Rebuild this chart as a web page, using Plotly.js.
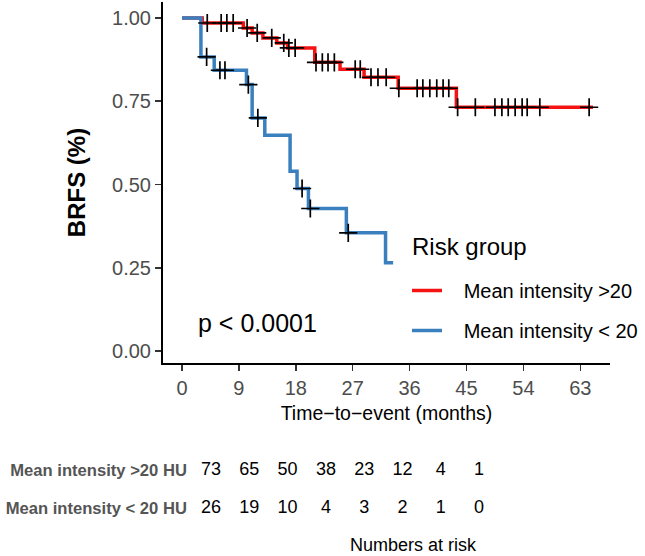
<!DOCTYPE html>
<html>
<head>
<meta charset="utf-8">
<script src="https://cdn.plot.ly/plotly-3.0.1.min.js"></script>
<style>
  html, body { margin: 0; padding: 0; background: #fff; }
  #chart { width: 645px; height: 556px; }
</style>
</head>
<body>
<div id="chart"></div>
<script>
// Kaplan-Meier steps (months, survival)
const highTime = [0, 3.2, 9.7, 11.1, 12.8, 15.0, 16.7, 21.0, 25.0, 28.8, 34.2, 43.4, 65.0];
const highSurv = [1, 0.985, 0.970, 0.955, 0.940, 0.925, 0.910, 0.867, 0.846, 0.822, 0.789, 0.732, 0.732];
const highCensor = [4.0, 6.2, 7.1, 8.1, 10.3, 11.9, 14.2, 16.1, 16.9, 17.9, 21.2, 22.2, 23.1, 24.1,
  27.4, 28.2, 29.9, 31.0, 32.3, 34.3, 37.2, 38.1, 39.2, 40.3, 41.3, 42.2,
  43.6, 46.4, 49.5, 50.6, 51.6, 52.7, 53.8, 54.6, 56.6, 64.4];

const lowTime = [0, 3.0, 5.1, 10.2, 11.1, 13.1, 17.1, 18.2, 20.0, 26.0, 32.2, 33.4];
const lowSurv = [1, 0.883, 0.843, 0.800, 0.700, 0.648, 0.540, 0.488, 0.428, 0.355, 0.265, 0.265];
const lowCensor = [3.9, 6.0, 6.8, 10.5, 12.0, 19.0, 20.3, 26.3];

const groupNames = ['Mean intensity >20', 'Mean intensity < 20'];
const tableLabels = ['Mean intensity >20 HU', 'Mean intensity < 20 HU'];
const riskHigh = [73, 65, 50, 38, 23, 12, 4, 1];
const riskLow = [26, 19, 10, 4, 3, 2, 1, 0];
const xTicks = [0, 9, 18, 27, 36, 45, 54, 63];

const RED = '#f41212';
const BLUE = '#3a80bf';
const FONT = 'Liberation Sans, Arial, sans-serif';
const PAD = '\u00a0\u00a0\u00a0'; // gap between legend line and label

// survival value at time t from a step curve
function stepValue(times, surv, t) {
    let v = surv[0];
    for (let i = 0; i < times.length; i++) {
        if (times[i] <= t) v = surv[i];
    }
    return v;
}

function censorTrace(times, stepT, stepS) {
    return {
        x: times,
        y: times.map(t => stepValue(stepT, stepS, t)),
        type: 'scatter',
        mode: 'markers',
        marker: { symbol: 'cross-thin', size: 13, line: { width: 1.7, color: '#000' } },
        showlegend: false,
        hoverinfo: 'skip'
    };
}

const traces = [
    {
        x: highTime, y: highSurv, type: 'scatter', mode: 'lines',
        line: { shape: 'hv', color: RED, width: 3.5 },
        name: PAD + groupNames[0], legendgroup: 'a'
    },
    {
        x: lowTime, y: lowSurv, type: 'scatter', mode: 'lines',
        line: { shape: 'hv', color: BLUE, width: 3.5 },
        name: PAD + groupNames[1], legendgroup: 'b'
    },
    censorTrace(highCensor, highTime, highSurv),
    censorTrace(lowCensor, lowTime, lowSurv),
    // numbers at risk table
    {
        x: riskHigh.map((v, i) => i).concat(riskLow.map((v, i) => i)),
        y: riskHigh.map(() => 1).concat(riskLow.map(() => 0)),
        text: riskHigh.map(String).concat(riskLow.map(String)),
        type: 'scatter', mode: 'text',
        textfont: { family: FONT, size: 18, color: '#000' },
        xaxis: 'x2', yaxis: 'y2',
        showlegend: false, hoverinfo: 'skip'
    }
];

const tickFont = { family: FONT, size: 20, color: '#4d4d4d' };

const layout = {
    width: 645,
    height: 556,
    margin: { l: 0, r: 0, t: 0, b: 0 },
    paper_bgcolor: '#fff',
    plot_bgcolor: 'rgba(0,0,0,0)',
    font: { family: FONT },
    showlegend: true,
    xaxis: {
        domain: [163 / 645, 610 / 645],
        range: [-3, 67.7],
        tickvals: xTicks,
        ticks: 'outside', ticklen: 6, tickwidth: 1.5, tickcolor: '#333',
        showline: true, linecolor: '#000', linewidth: 2,
        showgrid: false, zeroline: false,
        tickfont: tickFont,
        title: { text: 'Time\u2212to\u2212event (months)', font: { family: FONT, size: 19.5, color: '#000' }, standoff: 8 },
        automargin: false
    },
    yaxis: {
        domain: [1 - 363 / 556, 1 - 2 / 556],
        range: [-0.036, 1.048],
        tickvals: [0, 0.25, 0.5, 0.75, 1],
        tickformat: '.2f',
        ticks: 'outside', ticklen: 6, tickwidth: 1.5, tickcolor: '#333',
        showline: true, linecolor: '#000', linewidth: 2,
        showgrid: false, zeroline: false,
        tickfont: tickFont,
        title: { text: 'BRFS (%)', font: { family: FONT, size: 24, color: '#000', weight: 'bold' }, standoff: 20 },
        automargin: false
    },
    xaxis2: {
        domain: [191.9 / 645, 498.2 / 645],
        range: [-0.5, 7.5],
        anchor: 'y2',
        visible: false
    },
    yaxis2: {
        domain: [1 - 527 / 556, 1 - 451 / 556],
        range: [-0.5, 1.5],
        anchor: 'x2',
        tickvals: [1, 0],
        ticktext: tableLabels,
        tickfont: { family: FONT, size: 16.6, color: '#555', weight: 'bold' },
        ticks: '', showline: false, showgrid: false, zeroline: false,
        ticklabelstandoff: 4,
        automargin: false
    },
    legend: {
        x: 407 / 645, y: 1 - 271 / 556,
        xanchor: 'left', yanchor: 'top',
        bgcolor: 'rgba(0,0,0,0)',
        font: { family: FONT, size: 20, color: '#000' },
        traceorder: 'grouped',
        tracegroupgap: 11
    },
    annotations: [
        {
            x: 410 / 645, y: 1 - 246 / 556, xref: 'paper', yref: 'paper',
            text: 'Risk group', showarrow: false, xanchor: 'left', yanchor: 'middle',
            font: { family: FONT, size: 24, color: '#000' }
        },
        {
            x: 2.2, y: 0.085, xref: 'x', yref: 'y',
            text: 'p < 0.0001', showarrow: false, xanchor: 'left', yanchor: 'middle',
            font: { family: FONT, size: 25, color: '#000' }
        },
        {
            x: 413 / 645, y: 1 - 545 / 556, xref: 'paper', yref: 'paper',
            text: 'Numbers at risk', showarrow: false, xanchor: 'center', yanchor: 'middle',
            font: { family: FONT, size: 18, color: '#000' }
        }
    ]
};

Plotly.newPlot('chart', traces, layout, { staticPlot: true });
</script>
</body>
</html>
